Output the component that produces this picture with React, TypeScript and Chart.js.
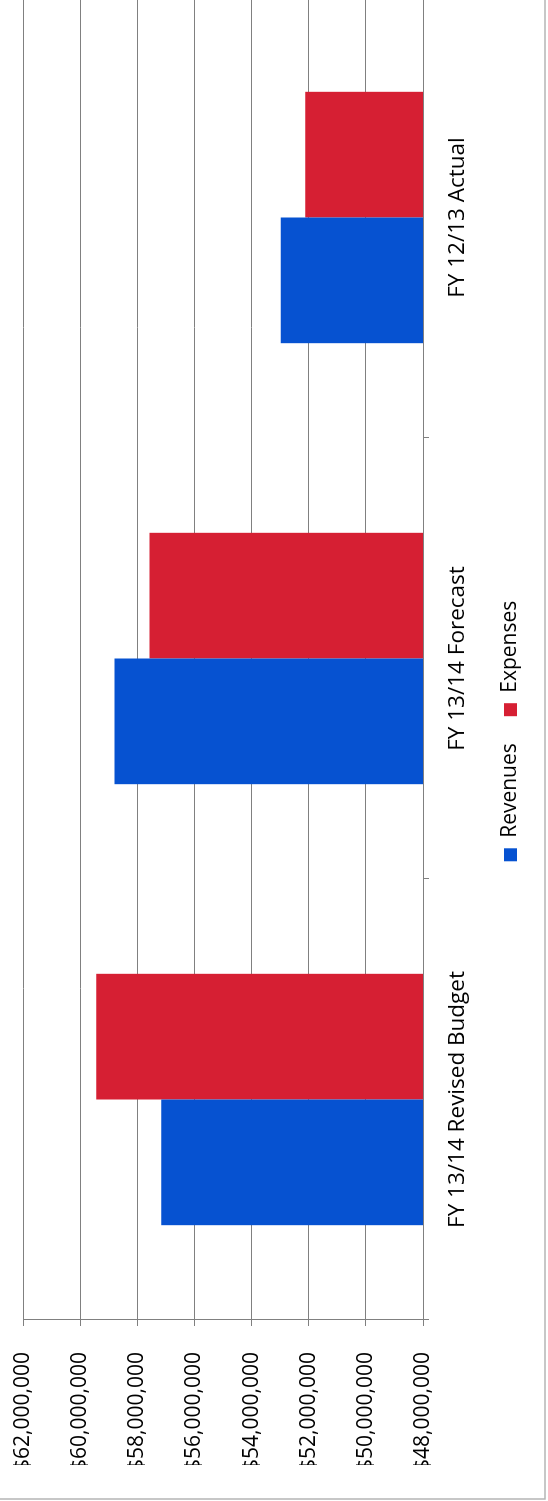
import React, { useEffect, useRef } from "react";
import { Chart, registerables } from "chart.js";

Chart.register(...registerables);

const categories = ["FY 13/14 Revised Budget", "FY 13/14 Forecast", "FY 12/13 Actual"];
const revenues = [57160000, 58800000, 52980000];
const expenses = [59440000, 57570000, 52120000];
const seriesNames = ["Revenues", "Expenses"];
const axisMin = 48000000;
const axisMax = 62000000;
const axisStep = 2000000;

const BLUE = "#0652d1";
const RED = "#d61f33";
const GRID = "#808080";
const FONT = "'Open Sans', 'Liberation Sans', sans-serif";

const CW = 1510;
const CH = 548;
const PAGE_W = 548;
const PAGE_H = 1501;

const borderPlugin = {
  id: "chartBorder",
  afterDraw(chart: any) {
    const ctx = chart.ctx;
    ctx.save();
    ctx.strokeStyle = "#b5b5b5";
    ctx.lineWidth = 1.5;
    ctx.beginPath();
    ctx.moveTo(2, 0);
    ctx.lineTo(2, 545);
    ctx.lineTo(chart.width, 545);
    ctx.stroke();
    ctx.restore();
  },
};

export default function App() {
  const ref = useRef<HTMLCanvasElement | null>(null);

  useEffect(() => {
    const canvas = ref.current;
    if (!canvas) return;
    document.body.style.margin = "0";
    const chart = new Chart(canvas, {
      type: "bar",
      data: {
        labels: categories,
        datasets: [
          {
            label: seriesNames[0],
            data: revenues,
            backgroundColor: BLUE,
            borderWidth: 0,
            categoryPercentage: 0.57,
            barPercentage: 1.0,
          },
          {
            label: seriesNames[1],
            data: expenses,
            backgroundColor: RED,
            borderWidth: 0,
            categoryPercentage: 0.57,
            barPercentage: 1.0,
          },
        ],
      },
      options: {
        responsive: false,
        animation: false,
        devicePixelRatio: 1,
        layout: { padding: { left: 36, right: 6, top: 23, bottom: 17 } },
        plugins: {
          tooltip: { enabled: false },
          legend: {
            display: true,
            position: "bottom",
            align: "center",
            labels: {
              boxWidth: 13,
              boxHeight: 13,
              padding: 27,
              color: "#000",
              font: { family: FONT, size: 21 },
            },
          },
        },
        scales: {
          x: {
            type: "category",
            offset: true,
            grid: {
              offset: true,
              drawOnChartArea: false,
              drawTicks: true,
              tickLength: 6,
              color: GRID,
            },
            border: { display: true, color: GRID, width: 1 },
            ticks: {
              color: "#000",
              font: { family: FONT, size: 22.5 },
              padding: 15,
              maxRotation: 0,
              autoSkip: false,
            },
            afterFit(scale: any) {
              scale.height = 50;
              scale.paddingLeft = 0;
              scale.paddingRight = 0;
            },
          },
          y: {
            type: "linear",
            min: axisMin,
            max: axisMax,
            grid: {
              color: GRID,
              drawTicks: true,
              tickLength: 6,
            },
            border: { display: true, color: GRID, width: 1 },
            ticks: {
              stepSize: axisStep,
              color: "#000",
              font: { family: FONT, size: 21 },
              padding: 26,
              callback: (v: any) => "$" + Number(v).toLocaleString("en-US"),
            },
            afterFit(scale: any) {
              scale.width = 145;
              scale.paddingTop = 0;
              scale.paddingBottom = 0;
            },
          },
        },
      },
      plugins: [borderPlugin],
    });
    return () => chart.destroy();
  }, []);

  return (
    <div
      style={{
        position: "fixed",
        left: 0,
        top: 0,
        width: PAGE_W,
        height: PAGE_H,
        overflow: "hidden",
        background: "#fff",
      }}
    >
      <div
        style={{
          position: "absolute",
          left: 0,
          top: 0,
          width: CW,
          height: CH,
          transformOrigin: "0 0",
          transform: `translateY(${PAGE_H}px) rotate(-90deg)`,
        }}
      >
        <canvas ref={ref} width={CW} height={CH} style={{ width: CW, height: CH, display: "block" }} />
      </div>
    </div>
  );
}
